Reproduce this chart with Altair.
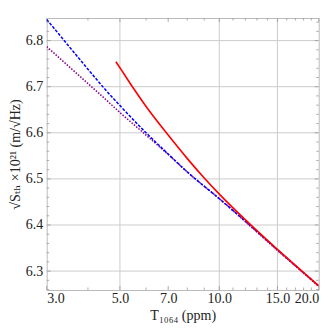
import altair as alt
import pandas as pd

# data
blue_x = [3, 3.5, 4, 4.5, 5, 6, 7, 8, 10, 12, 15, 20]
blue_y = [6.846, 6.788, 6.738, 6.695, 6.659, 6.600, 6.554, 6.515, 6.457, 6.408, 6.346, 6.268]
purple_x = [3, 3.5, 4, 4.5, 5, 6, 7, 8, 10, 12, 15, 20]
purple_y = [6.787, 6.744, 6.707, 6.674, 6.644, 6.595, 6.553, 6.515, 6.457, 6.407, 6.345, 6.267]
red_x = [4.86, 5, 5.5, 6, 7, 8, 9, 10, 12, 15, 20]
red_y = [6.754, 6.741, 6.696, 6.657, 6.595, 6.544, 6.502, 6.467, 6.411, 6.347, 6.268]

x_labels = [3, 5, 7, 10, 15, 20]
x_grid = [5, 10, 15]
x_minor = [4, 6, 8, 9, 11, 12, 13, 14, 16, 17, 18, 19]
y_labels = [6.3, 6.4, 6.5, 6.6, 6.7, 6.8]
y_minor = [round(6.26 + 0.02 * i, 2) for i in range(30) if round(6.26 + 0.02 * i, 2) not in y_labels]

X_DOM = [3, 20]
Y_DOM = [6.259, 6.849]
W, H = 272, 272
FONT = "Liberation Serif, Times New Roman, DejaVu Serif, serif"

curves = pd.concat([
    pd.DataFrame({"x": blue_x, "y": blue_y, "s": "blue"}),
    pd.DataFrame({"x": purple_x, "y": purple_y, "s": "purple"}),
    pd.DataFrame({"x": red_x, "y": red_y, "s": "red"}),
])

xs = alt.Scale(type="log", domain=X_DOM, nice=False, zero=False)
ys = alt.Scale(domain=Y_DOM, nice=False, zero=False)

grid_col = "#cccccc"
tick_col = "#999999"

xgrid = alt.Chart(pd.DataFrame({"x": x_grid})).mark_rule(color=grid_col, strokeWidth=1).encode(
    x=alt.X("x:Q", scale=xs))
ygrid = alt.Chart(pd.DataFrame({"y": y_labels})).mark_rule(color=grid_col, strokeWidth=1).encode(
    y=alt.Y("y:Q", scale=ys))

def xticks(vals, length):
    d = pd.DataFrame({"x": vals})
    b = alt.Chart(d).mark_rule(color=tick_col, strokeWidth=0.8).encode(
        x=alt.X("x:Q", scale=xs), y=alt.value(H), y2=alt.value(H - length))
    t = alt.Chart(d).mark_rule(color=tick_col, strokeWidth=0.8).encode(
        x=alt.X("x:Q", scale=xs), y=alt.value(0), y2=alt.value(length))
    return b + t

def yticks(vals, length):
    d = pd.DataFrame({"y": vals})
    l = alt.Chart(d).mark_rule(color=tick_col, strokeWidth=0.8).encode(
        y=alt.Y("y:Q", scale=ys), x=alt.value(0), x2=alt.value(length))
    r = alt.Chart(d).mark_rule(color=tick_col, strokeWidth=0.8).encode(
        y=alt.Y("y:Q", scale=ys), x=alt.value(W), x2=alt.value(W - length))
    return l + r

base = alt.Chart(curves)

def line(series, color, dash, width):
    kw = dict(color=color, strokeWidth=width, interpolate="monotone", clip=True)
    if dash:
        kw["strokeDash"] = dash
    return base.transform_filter(alt.datum.s == series).mark_line(**kw).encode(
        x=alt.X("x:Q", scale=xs,
                axis=alt.Axis(values=x_labels, format=".1f", grid=False, ticks=False, domain=False,
                              labelFont=FONT, labelFontSize=14, labelColor="#222", labelPadding=2,
                              title="T₁₀₆₄ (ppm)", titleFont=FONT, titleFontSize=14,
                              titleFontWeight="normal", titleColor="#222", titlePadding=3)),
        y=alt.Y("y:Q", scale=ys,
                axis=alt.Axis(values=y_labels, format=".1f", grid=False, ticks=False, domain=False,
                              labelFont=FONT, labelFontSize=14, labelColor="#222", labelPadding=4,
                              title="√Sₜₕ ×10²¹ (m/√Hz)", titleFont=FONT, titleFontSize=14,
                              titleFontWeight="normal", titleColor="#222", titlePadding=3)),
        order="x:Q",
    )

chart = alt.layer(
    xgrid, ygrid,
    xticks(x_labels, 4), xticks(x_minor, 2.5),
    yticks(y_labels, 4), yticks(y_minor, 2.5),
    line("purple", "#8b008b", [1.5, 1.5], 1.5),
    line("blue", "#0000ff", [3, 1.5], 1.5),
    line("red", "#ff0000", None, 1.6),
).properties(
    width=W, height=H,
    autosize=alt.AutoSizeParams(type="none"),
    padding={"left": 38.7, "top": 10, "right": 5, "bottom": 36},
).configure_view(stroke="#bbbbbb", strokeWidth=1)

chart.save("out.html", embed_options={"renderer": "svg", "actions": False})
